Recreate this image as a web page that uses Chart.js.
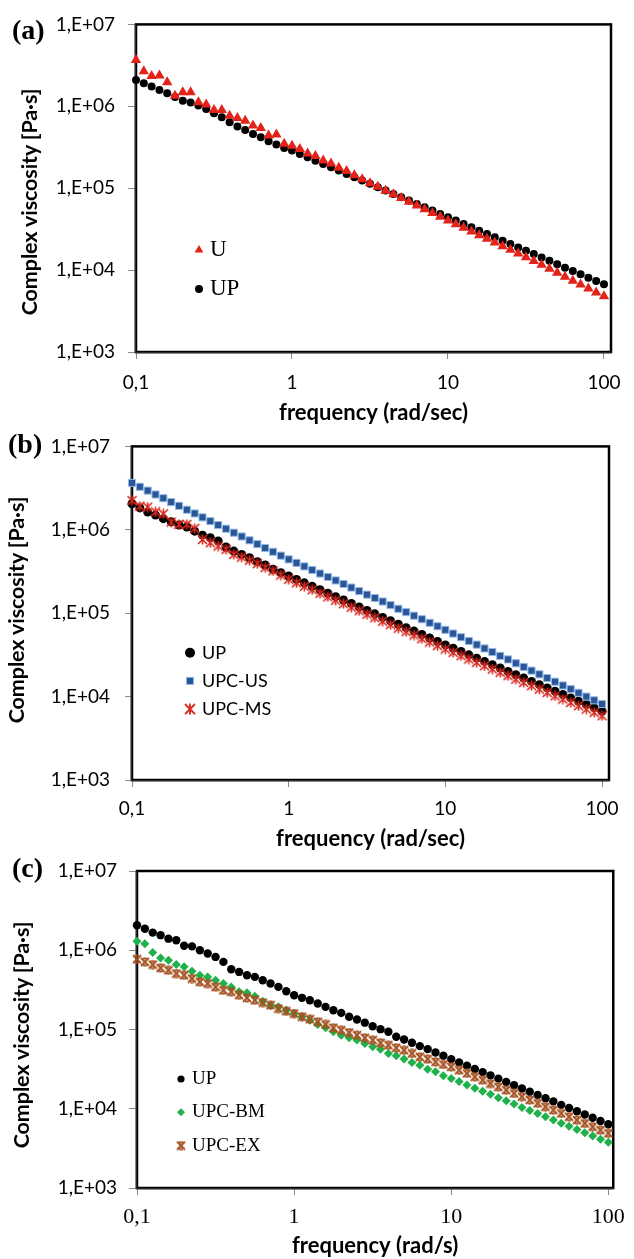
<!DOCTYPE html>
<html>
<head>
<meta charset="utf-8">
<script src="https://cdn.jsdelivr.net/npm/chart.js@4.4.1/dist/chart.umd.min.js"></script>
<style>
body { margin: 0; background: #fff; }
#page { position: relative; width: 634px; height: 1259px; overflow: hidden; background: #fff; }
canvas { position: absolute; left: 0; }
.lbl { position: absolute; font: bold 28px "Liberation Serif", serif; line-height: 1; }
.ytitle { position: absolute; font: bold 21.5px Lato, sans-serif; white-space: nowrap; line-height: 1; letter-spacing: -0.1px; transform: translate(-50%, -50%) rotate(-90deg); }
</style>
</head>
<body>
<div id="page">
	<canvas id="chA" width="634" height="430" style="top:0px"></canvas>
	<canvas id="chB" width="634" height="440" style="top:420px"></canvas>
	<canvas id="chC" width="634" height="414" style="top:845px"></canvas>
	<div class="lbl" style="left:12px;top:16px">(a)</div>
	<div class="lbl" style="left:8px;top:430px">(b)</div>
	<div class="lbl" style="left:12px;top:854px">(c)</div>
	<div class="ytitle" style="left:30px;top:202px">Complex viscosity [Pa·s]</div>
	<div class="ytitle" style="left:17px;top:610px">Complex viscosity [Pa·s]</div>
	<div class="ytitle" style="left:22px;top:1035px">Complex viscosity [Pa·s]</div>
</div>
<script>
// frecuencia (rad/s), misma para todas las series
const freq = [0.1, 0.1122, 0.1259, 0.1413, 0.1585, 0.1778, 0.1995, 0.2239, 0.2512, 0.2818, 0.3162, 0.3548, 0.3981, 0.4467, 0.5012, 0.5623, 0.631, 0.7079, 0.7943, 0.8913,
	1, 1.122, 1.259, 1.413, 1.585, 1.778, 1.995, 2.239, 2.512, 2.818, 3.162, 3.548, 3.981, 4.467, 5.012, 5.623, 6.31, 7.079, 7.943, 8.913,
	10, 11.22, 12.59, 14.13, 15.85, 17.78, 19.95, 22.39, 25.12, 28.18, 31.62, 35.48, 39.81, 44.67, 50.12, 56.23, 63.1, 70.79, 79.43, 89.13, 100];

// (a)
const aU = [3.67e6, 2.67e6, 2.34e6, 2.37e6, 1.96e6, 1.35e6, 1.48e6, 1.48e6, 1.12e6, 1.05e6, 9.02e5, 9.02e5, 7.69e5, 7.21e5, 6.68e5, 5.81e5, 5.45e5, 4.39e5, 4.51e5, 3.48e5,
	3.31e5, 3.02e5, 2.66e5, 2.48e5, 2.18e5, 2.00e5, 1.78e5, 1.62e5, 1.44e5, 1.29e5, 1.15e5, 1.04e5, 9.33e4, 8.41e4, 7.57e4, 6.82e4, 6.14e4, 5.53e4, 4.98e4, 4.49e4,
	4.04e4, 3.64e4, 3.29e4, 2.96e4, 2.67e4, 2.42e4, 2.18e4, 1.96e4, 1.77e4, 1.60e4, 1.44e4, 1.29e4, 1.16e4, 1.04e4, 9.27e3, 8.30e3, 7.43e3, 6.65e3, 5.96e3, 5.33e3, 4.78e3];
const aUP = [2.09e6, 1.91e6, 1.74e6, 1.58e6, 1.44e6, 1.30e6, 1.17e6, 1.11e6, 1.02e6, 9.27e5, 8.22e5, 7.35e5, 6.38e5, 5.65e5, 5.14e5, 4.60e5, 4.19e5, 3.74e5, 3.41e5, 3.10e5,
	2.88e5, 2.62e5, 2.39e5, 2.17e5, 1.98e5, 1.80e5, 1.64e5, 1.49e5, 1.36e5, 1.24e5, 1.13e5, 1.03e5, 9.35e4, 8.51e4, 7.74e4, 7.06e4, 6.43e4, 5.85e4, 5.33e4, 4.85e4,
	4.43e4, 4.03e4, 3.66e4, 3.33e4, 3.03e4, 2.76e4, 2.51e4, 2.29e4, 2.08e4, 1.89e4, 1.72e4, 1.57e4, 1.43e4, 1.30e4, 1.18e4, 1.07e4, 9.77e3, 8.89e3, 8.09e3, 7.36e3, 6.70e3];

// (b)
const bUP = [2.05e6, 1.83e6, 1.63e6, 1.50e6, 1.36e6, 1.25e6, 1.14e6, 1.08e6, 9.64e5, 8.63e5, 8.02e5, 7.33e5, 6.21e5, 5.56e5, 5.07e5, 4.62e5, 4.15e5, 3.78e5, 3.36e5, 3.06e5,
	2.79e5, 2.54e5, 2.31e5, 2.10e5, 1.91e5, 1.74e5, 1.58e5, 1.44e5, 1.31e5, 1.19e5, 1.08e5, 9.82e4, 8.91e4, 8.11e4, 7.38e4, 6.71e4, 6.10e4, 5.55e4, 5.05e4, 4.58e4,
	4.17e4, 3.80e4, 3.47e4, 3.17e4, 2.89e4, 2.64e4, 2.41e4, 2.20e4, 2.00e4, 1.83e4, 1.67e4, 1.52e4, 1.39e4, 1.27e4, 1.16e4, 1.06e4, 9.64e3, 8.79e3, 8.04e3, 7.33e3, 6.68e3];
const bUS = [3.65e6, 3.28e6, 2.95e6, 2.65e6, 2.39e6, 2.15e6, 1.94e6, 1.74e6, 1.57e6, 1.41e6, 1.27e6, 1.14e6, 1.03e6, 9.23e5, 8.32e5, 7.48e5, 6.73e5, 6.05e5, 5.45e5, 4.90e5,
	4.42e5, 4.01e5, 3.64e5, 3.30e5, 2.99e5, 2.72e5, 2.47e5, 2.24e5, 2.03e5, 1.84e5, 1.67e5, 1.52e5, 1.38e5, 1.25e5, 1.13e5, 1.03e5, 9.33e4, 8.47e4, 7.67e4, 6.97e4,
	6.32e4, 5.70e4, 5.15e4, 4.65e4, 4.20e4, 3.78e4, 3.42e4, 3.08e4, 2.79e4, 2.51e4, 2.27e4, 2.05e4, 1.85e4, 1.67e4, 1.51e4, 1.36e4, 1.23e4, 1.11e4, 1.00e4, 9.02e3, 8.15e3];
const bMS = [2.24e6, 1.92e6, 1.87e6, 1.64e6, 1.55e6, 1.24e6, 1.16e6, 1.16e6, 1.04e6, 7.66e5, 7.00e5, 6.38e5, 5.82e5, 5.07e5, 4.71e5, 4.30e5, 3.93e5, 3.52e5, 3.21e5, 2.87e5,
	2.55e5, 2.31e5, 2.10e5, 1.91e5, 1.73e5, 1.57e5, 1.43e5, 1.30e5, 1.18e5, 1.07e5, 9.73e4, 8.83e4, 8.02e4, 7.29e4, 6.62e4, 6.01e4, 5.46e4, 4.95e4, 4.51e4, 4.09e4,
	3.72e4, 3.39e4, 3.09e4, 2.82e4, 2.57e4, 2.34e4, 2.14e4, 1.95e4, 1.78e4, 1.62e4, 1.48e4, 1.35e4, 1.23e4, 1.12e4, 1.02e4, 9.33e3, 8.51e3, 7.76e3, 7.08e3, 6.46e3, 5.89e3];

// (c)
const cUP = [2.07e6, 1.87e6, 1.67e6, 1.55e6, 1.40e6, 1.34e6, 1.14e6, 1.12e6, 1.00e6, 9.08e5, 8.24e5, 7.13e5, 5.77e5, 5.33e5, 4.84e5, 4.61e5, 4.19e5, 3.80e5, 3.45e5, 3.04e5,
	2.71e5, 2.51e5, 2.34e5, 2.13e5, 1.93e5, 1.75e5, 1.62e5, 1.45e5, 1.34e5, 1.22e5, 1.10e5, 1.01e5, 9.35e4, 8.09e4, 7.48e4, 6.79e4, 6.17e4, 5.65e4, 5.13e4, 4.66e4,
	4.23e4, 3.85e4, 3.50e4, 3.18e4, 2.90e4, 2.64e4, 2.40e4, 2.18e4, 1.98e4, 1.80e4, 1.64e4, 1.49e4, 1.36e4, 1.24e4, 1.12e4, 1.02e4, 9.29e3, 8.45e3, 7.69e3, 7.00e3, 6.37e3];
const cBM = [1.30e6, 1.21e6, 9.35e5, 8.00e5, 7.48e5, 6.59e5, 6.17e5, 5.43e5, 4.84e5, 4.61e5, 4.19e5, 3.80e5, 3.45e5, 2.99e5, 2.90e5, 2.63e5, 2.28e5, 2.03e5, 1.93e5, 1.75e5,
	1.59e5, 1.45e5, 1.31e5, 1.16e5, 1.05e5, 9.35e4, 8.49e4, 7.85e4, 7.35e4, 6.67e4, 6.05e4, 5.65e4, 4.98e4, 4.66e4, 4.23e4, 3.84e4, 3.55e4, 3.16e4, 2.92e4, 2.61e4,
	2.41e4, 2.20e4, 2.00e4, 1.82e4, 1.66e4, 1.52e4, 1.38e4, 1.26e4, 1.15e4, 1.04e4, 9.53e3, 8.69e3, 7.91e3, 7.21e3, 6.58e3, 6.00e3, 5.46e3, 4.98e3, 4.54e3, 4.13e3, 3.77e3];
const cEX = [7.71e5, 7.13e5, 6.59e5, 5.98e5, 5.60e5, 5.08e5, 4.84e5, 4.40e5, 3.99e5, 3.80e5, 3.45e5, 3.13e5, 2.99e5, 2.71e5, 2.51e5, 2.34e5, 2.19e5, 2.03e5, 1.84e5, 1.70e5,
	1.59e5, 1.45e5, 1.35e5, 1.25e5, 1.16e5, 1.05e5, 9.82e4, 9.16e4, 8.49e4, 7.85e4, 7.35e4, 6.79e4, 6.35e4, 5.87e4, 5.48e4, 4.98e4, 4.52e4, 4.23e4, 3.91e4, 3.62e4,
	3.38e4, 3.07e4, 2.79e4, 2.53e4, 2.30e4, 2.08e4, 1.89e4, 1.72e4, 1.56e4, 1.42e4, 1.29e4, 1.17e4, 1.06e4, 9.62e3, 8.73e3, 7.93e3, 7.19e3, 6.53e3, 5.93e3, 5.38e3, 4.89e3];

// ejes
const xTickValues = [0.1, 1, 10, 100];
const xTickLabels = ['0,1', '1', '10', '100'];
const yTickValues = [1e3, 1e4, 1e5, 1e6, 1e7];
const yTickLabels = ['1,E+03', '1,E+04', '1,E+05', '1,E+06', '1,E+07'];

Chart.defaults.font.family = 'Lato';
Chart.defaults.color = '#000';

// marcador tipo asterisco (X + linea vertical) o X con barras cortas
function starMarker(color, size, lw, caps) {
	const c = document.createElement('canvas');
	c.width = c.height = size + 2;
	const g = c.getContext('2d');
	const m = (size + 2) / 2, r = size / 2;
	g.strokeStyle = color;
	g.lineWidth = lw;
	g.beginPath();
	g.moveTo(m - r, m - r); g.lineTo(m + r, m + r);
	g.moveTo(m + r, m - r); g.lineTo(m - r, m + r);
	if (caps) {
		g.moveTo(m - r * 0.45, m - r + 0.5); g.lineTo(m + r * 0.45, m - r + 0.5);
		g.moveTo(m - r * 0.45, m + r - 0.5); g.lineTo(m + r * 0.45, m + r - 0.5);
	} else {
		g.moveTo(m, m - r - 0.5); g.lineTo(m, m + r + 0.5);
	}
	g.stroke();
	return c;
}

const frame = {
	id: 'frame',
	beforeDatasetsDraw(chart) {
		const { ctx, chartArea: a } = chart;
		ctx.save();
		ctx.strokeStyle = '#000';
		ctx.lineWidth = 2.5;
		ctx.strokeRect(a.left, a.top, a.right - a.left, a.bottom - a.top);
		ctx.strokeStyle = '#555';
		ctx.lineWidth = 1;
		ctx.beginPath();
		ctx.moveTo(a.left - 1, a.top); ctx.lineTo(a.left - 1, a.bottom + 1); ctx.lineTo(a.right, a.bottom + 1);
		ctx.stroke();
		ctx.restore();
	}
};

const legendInside = {
	id: 'legendInside',
	afterDatasetsDraw(chart, args, opts) {
		const ctx = chart.ctx;
		ctx.save();
		opts.items.forEach((it, row) => {
			const ds = chart.data.datasets[it.ds];
			const y = opts.y + row * opts.step;
			ctx.fillStyle = ds.pointBackgroundColor;
			ctx.strokeStyle = ds.pointBorderColor;
			ctx.lineWidth = ds.pointBorderWidth;
			Chart.helpers.drawPoint(ctx, {
				pointStyle: it.style || ds.pointStyle, rotation: 0,
				radius: it.r || ds.pointRadius, borderWidth: ds.pointBorderWidth
			}, opts.markerX, y);
			ctx.fillStyle = '#000';
			ctx.font = opts.font;
			ctx.textBaseline = 'middle';
			ctx.textAlign = 'left';
			ctx.fillText(ds.label, opts.textX, y);
		});
		ctx.restore();
	}
};

function serie(label, ys, style, r, fill, border, bw, order) {
	return {
		label, data: freq.map((f, i) => ({ x: f, y: ys[i] })),
		pointStyle: style, pointRadius: r, pointHoverRadius: r,
		pointBackgroundColor: fill, pointBorderColor: border, pointBorderWidth: bw,
		showLine: false, clip: false, order
	};
}

function ejes(c) {
	return {
		x: {
			type: 'logarithmic', min: 0.1, max: c.xMax,
			afterBuildTicks: s => { s.ticks = xTickValues.map(v => ({ value: v })); },
			afterFit: s => { s.height = c.xHeight; },
			border: { display: false },
			grid: { drawOnChartArea: false, drawTicks: true, tickLength: 7, color: '#8a8a8a' },
			ticks: { font: c.xFont, padding: c.xPad, autoSkip: false, maxRotation: 0, color: '#000',
				callback: (v, i) => xTickLabels[i] },
			title: { display: true, text: c.xTitle, color: '#000',
				font: { family: 'Lato', size: 22, weight: 'bold' }, padding: { top: 0, bottom: c.titlePad } }
		},
		y: {
			type: 'logarithmic', min: 1e3, max: 1e7,
			afterBuildTicks: s => { s.ticks = yTickValues.map(v => ({ value: v })); },
			afterFit: s => { s.width = c.yWidth; },
			border: { display: false },
			grid: { drawOnChartArea: false, drawTicks: true, tickLength: c.yTick, color: '#8a8a8a' },
			ticks: { font: { family: 'Lato', size: 19 }, padding: c.yPad, autoSkip: false, color: '#000',
				callback: (v, i) => yTickLabels[i] }
		}
	};
}

function grafico(id, datasets, c, legend) {
	return new Chart(document.getElementById(id), {
		type: 'scatter',
		data: { datasets },
		options: {
			responsive: false, animation: false, devicePixelRatio: 1,
			layout: { padding: { top: c.top, right: c.right, bottom: 0, left: 0 } },
			plugins: { legend: { display: false }, tooltip: { enabled: false }, legendInside: legend },
			scales: ejes(c)
		},
		plugins: [frame, legendInside]
	});
}

const rojo = '#E32219', azul = '#2A5597', azulClaro = '#95B9E6', verde = '#20B24A', marron = '#A4501F';
const starMS = starMarker('#D9261C', 9, 1.6, false);
const starMSLeg = starMarker('#D9261C', 10, 1.8, false);
const starEX = starMarker(marron, 8, 1.9, true);

// (a)
grafico('chA', [
	serie('U', aU, 'triangle', 6, rojo, rojo, 0, 0),
	serie('UP', aUP, 'circle', 4, '#000', '#000', 0, 1)
], { xMax: 110.9, xHeight: 78, xFont: { family: 'Lato', size: 19 }, xPad: 12, xTitle: 'frequency (rad/sec)', titlePad: 4,
	yWidth: 136, yTick: 8, yPad: 13, top: 24, right: 23 },
{ markerX: 199, textX: 210, y: 250, step: 39, font: '23px "Liberation Serif"', items: [{ ds: 0, r: 5 }, { ds: 1 }] });

// (b)
grafico('chB', [
	serie('UP', bUP, 'circle', 4.5, '#000', '#000', 0, 2),
	serie('UPC-US', bUS, 'rect', 5, azul, azulClaro, 1, 1),
	serie('UPC-MS', bMS, starMS, 4.5, '#D9261C', '#D9261C', 0, 0)
], { xMax: 110.8, xHeight: 80, xFont: { family: 'Lato', size: 19 }, xPad: 10, xTitle: 'frequency (rad/sec)', titlePad: 8,
	yWidth: 132, yTick: 7, yPad: 15, top: 25, right: 25 },
{ markerX: 190, textX: 202, y: 232.7, step: 28.2, font: '18px Lato', items: [{ ds: 0, r: 5 }, { ds: 1 }, { ds: 2, style: starMSLeg }] });

// (c)
grafico('chC', [
	serie('UP', cUP, 'circle', 4.2, '#000', '#000', 0, 2),
	serie('UPC-BM', cBM, 'rectRot', 4.5, verde, verde, 0, 1),
	serie('UPC-EX', cEX, starEX, 4, marron, marron, 0, 0)
], { xMax: 107.5, xHeight: 71, xFont: { family: 'Liberation Serif', size: 22 }, xPad: 9, xTitle: 'frequency (rad/s)', titlePad: 0,
	yWidth: 137, yTick: 8, yPad: 12, top: 26, right: 16 },
{ markerX: 181, textX: 192, y: 234, step: 33.3, font: '19px "Liberation Serif"', items: [{ ds: 0, r: 3.6 }, { ds: 1, r: 4 }, { ds: 2 }] });
</script>
</body>
</html>
